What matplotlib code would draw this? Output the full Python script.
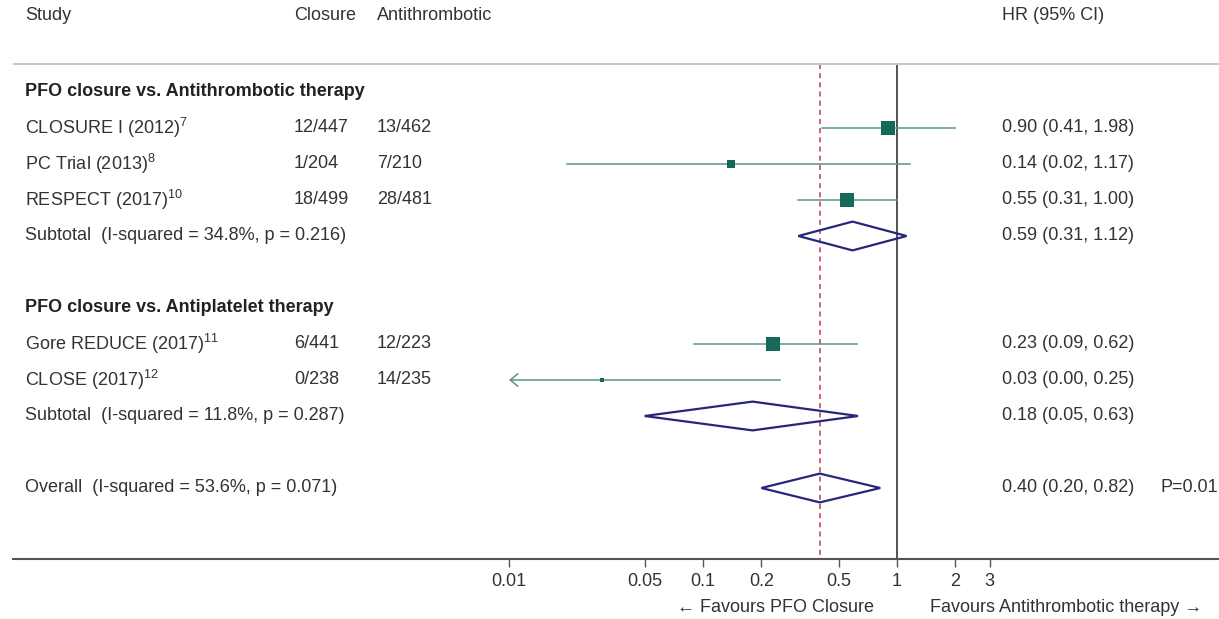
import numpy as np
import matplotlib
matplotlib.use("Agg")
import matplotlib.pyplot as plt
from matplotlib.ticker import NullLocator

plt.rcParams['font.family'] = ['Liberation Sans', 'DejaVu Sans']
plt.rcParams['mathtext.fontset'] = 'custom'
plt.rcParams['mathtext.rm'] = 'Liberation Sans'
plt.rcParams['mathtext.it'] = 'Liberation Sans'
plt.rcParams['mathtext.default'] = 'rm'

# ---- data -------------------------------------------------------------
groups = ["PFO closure vs. Antithrombotic therapy",
          "PFO closure vs. Antiplatelet therapy"]
studies = ["CLOSURE I (2012)", "PC Trial (2013)", "RESPECT (2017)",
           "Gore REDUCE (2017)", "CLOSE (2017)"]
refs = ["7", "8", "10", "11", "12"]
study_group = [0, 0, 0, 1, 1]
closure_events = ["12/447", "1/204", "18/499", "6/441", "0/238"]
antithrombotic_events = ["13/462", "7/210", "28/481", "12/223", "14/235"]
hr = [0.90, 0.14, 0.55, 0.23, 0.03]
ci_low = [0.41, 0.02, 0.31, 0.09, 0.00]
ci_high = [1.98, 1.17, 1.00, 0.62, 0.25]
weights = [26.0, 10.0, 34.5, 26.0, 2.5]   # study weights (%)

subtotal_labels = ["Subtotal  (I-squared = 34.8%, p = 0.216)",
                   "Subtotal  (I-squared = 11.8%, p = 0.287)"]
subtotal_hr = [0.59, 0.18]
subtotal_low = [0.31, 0.05]
subtotal_high = [1.12, 0.63]

overall_label = "Overall  (I-squared = 53.6%, p = 0.071)"
overall_hr = 0.40
overall_low = 0.20
overall_high = 0.82
overall_p = "P=0.01"

tick_values = [0.01, 0.05, 0.1, 0.2, 0.5, 1, 2, 3]
tick_labels = ["0.01", "0.05", "0.1", "0.2", "0.5", "1", "2", "3"]
axis_min = 0.01

# ---- layout -----------------------------------------------------------
W, H = 1219, 619
FS = 13
TXT = '#333333'
CI_COL = '#5a958c'
BOX_COL = '#16695a'
DIA_COL = '#27277a'
REF_COL = '#c24a66'

X_ONE = 897.0          # pixel position of HR = 1
PX_DEC = 194.0         # pixels per decade
ROW0, ROW_H = 92.0, 36.0


def px_to_row(py):
    return (py - ROW0) / ROW_H


def px_to_x(px):
    return 10 ** ((px - X_ONE) / PX_DEC)


fig = plt.figure(figsize=(W / 100, H / 100), dpi=100)
ax = fig.add_axes([0, 0, 1, 1])
ax.set_xscale('log')
ax.set_xlim(px_to_x(0), px_to_x(W))
ax.set_ylim(px_to_row(H), px_to_row(0))
tr = ax.get_yaxis_transform()

COL_STUDY, COL_CLO, COL_ANT, COL_HR, COL_P = 25, 294, 377, 1002, 1160


def put(px, row, s, **kw):
    kw.setdefault('fontsize', FS)
    kw.setdefault('color', TXT)
    ax.text(px / W, row, s, transform=tr, ha='left', va='center', **kw)


def ci_text(e, lo, hi):
    return f"{e:.2f} ({lo:.2f}, {hi:.2f})"


# header
hdr_row = px_to_row(15)
put(COL_STUDY, hdr_row, "Study")
put(COL_CLO, hdr_row, "Closure")
put(COL_ANT, hdr_row, "Antithrombotic")
put(COL_HR, hdr_row, "HR (95% CI)")

top_row = px_to_row(64)
bottom_row = px_to_row(559)
ax.plot([px_to_x(13), px_to_x(W)], [top_row, top_row], color='#c8c8c8',
        lw=1.5, solid_capstyle='butt')

# rows
row = 0
rows_study = []
rows_sub = []
for g, gname in enumerate(groups):
    put(COL_STUDY, row, gname, fontweight='bold', color='#222222')
    row += 1
    for i in range(len(studies)):
        if study_group[i] != g:
            continue
        rows_study.append((i, row))
        row += 1
    rows_sub.append(row)
    row += 2
overall_row = row

# reference lines
ax.plot([1, 1], [top_row, bottom_row], color='#444444', lw=1.3, zorder=1)
ax.plot([overall_hr, overall_hr], [top_row, bottom_row], color=REF_COL,
        lw=1.2, ls=(0, (3, 2.5)), zorder=1)

# studies
for i, r in rows_study:
    put(COL_STUDY, r, studies[i] + r"$^{" + refs[i] + "}$")
    put(COL_CLO, r, closure_events[i])
    put(COL_ANT, r, antithrombotic_events[i])
    put(COL_HR, r, ci_text(hr[i], ci_low[i], ci_high[i]))
    if ci_low[i] < axis_min:
        ax.annotate('', xy=(axis_min, r), xytext=(ci_high[i], r),
                    arrowprops=dict(arrowstyle='->,head_length=0.55,head_width=0.45',
                                    color=CI_COL, lw=1.1, shrinkA=0, shrinkB=0),
                    zorder=2)
    else:
        ax.plot([ci_low[i], ci_high[i]], [r, r], color=CI_COL, lw=1.1, zorder=2)
    side_px = 2.55 * np.sqrt(weights[i])
    ax.plot(hr[i], r, marker='s', ms=side_px * 0.72, color=BOX_COL,
            mec=BOX_COL, mew=0, zorder=3)


def diamond(est, lo, hi, r, h=0.4):
    ax.fill([lo, est, hi, est, lo], [r, r - h, r, r + h, r], facecolor='none',
            edgecolor=DIA_COL, lw=1.6, zorder=4, joinstyle='miter')


for g, r in enumerate(rows_sub):
    put(COL_STUDY, r, subtotal_labels[g])
    put(COL_HR, r, ci_text(subtotal_hr[g], subtotal_low[g], subtotal_high[g]))
    diamond(subtotal_hr[g], subtotal_low[g], subtotal_high[g], r)

put(COL_STUDY, overall_row, overall_label)
put(COL_HR, overall_row, ci_text(overall_hr, overall_low, overall_high))
put(COL_P, overall_row, overall_p)
diamond(overall_hr, overall_low, overall_high, overall_row)

# x axis
for s in ['top', 'left', 'right']:
    ax.spines[s].set_visible(False)
ax.spines['bottom'].set_position(('data', bottom_row))
ax.spines['bottom'].set_bounds(px_to_x(13), px_to_x(W))
ax.spines['bottom'].set_color('#555555')
ax.spines['bottom'].set_linewidth(1.5)
ax.set_yticks([])
ax.set_xticks(tick_values)
ax.set_xticklabels(tick_labels)
ax.xaxis.set_minor_locator(NullLocator())
ax.tick_params(axis='x', direction='out', length=6, width=1, color='#555555',
               labelsize=FS, labelcolor=TXT, pad=4)

fav_row = px_to_row(607)
ax.annotate("\u2190 Favours PFO Closure", xy=(1, fav_row), xytext=(-23, 0),
            textcoords='offset pixels', ha='right', va='center', fontsize=FS,
            color=TXT)
ax.annotate("Favours Antithrombotic therapy \u2192", xy=(1, fav_row),
            xytext=(33, 0), textcoords='offset pixels', ha='left', va='center',
            fontsize=FS, color=TXT)

fig.savefig("out.png", dpi=100, facecolor='white')
